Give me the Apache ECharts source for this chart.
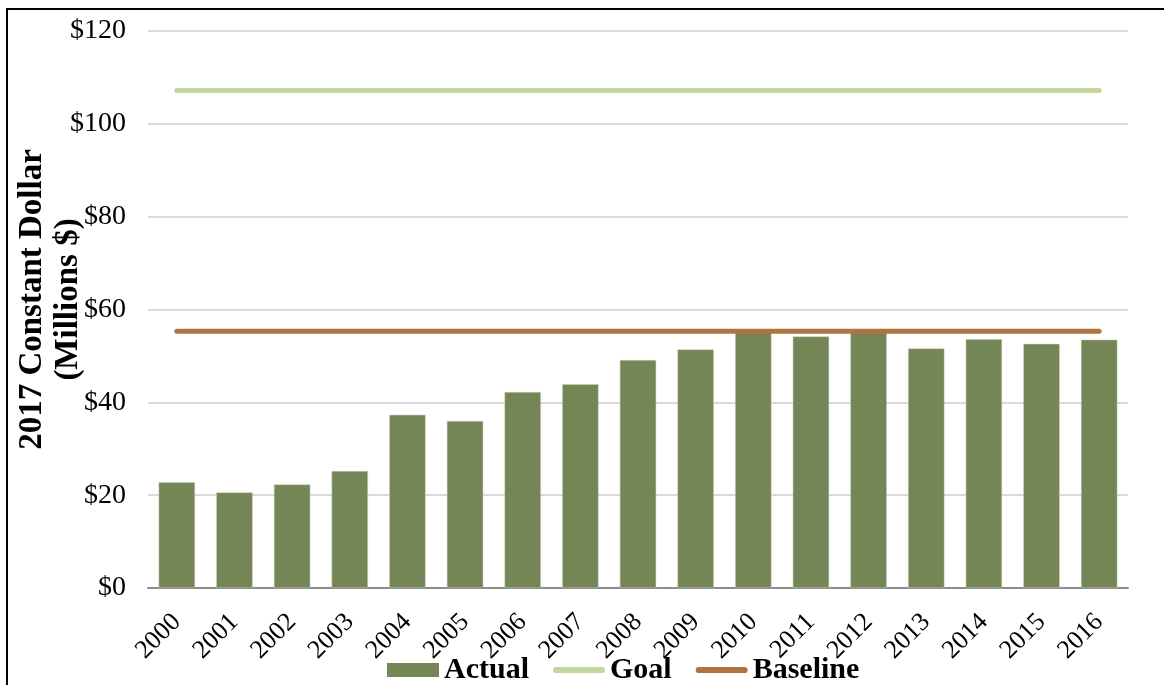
<!DOCTYPE html>
<html>
<head>
<meta charset="utf-8">
<script src="https://cdn.jsdelivr.net/npm/echarts@6/dist/echarts.min.js"></script>
<style>
html,body{margin:0;padding:0;background:#fff;}
#chart{width:1164px;height:685px;}
</style>
</head>
<body>
<div id="chart"></div>
<script>
const years = ['2000','2001','2002','2003','2004','2005','2006','2007','2008','2009','2010','2011','2012','2013','2014','2015','2016'];
const actual = [22.8, 20.6, 22.3, 25.2, 37.3, 36.0, 42.2, 43.9, 49.1, 51.4, 55.4, 54.2, 55.4, 51.6, 53.6, 52.6, 53.5];
const goalValue = 107.2;
const baselineValue = 55.3;
const goal = years.map(() => goalValue);
const baseline = years.map(() => baselineValue);

const serif = '"Liberation Serif", "Times New Roman", serif';
const lineIcon = 'path://M6,0 L94,0 A6,6 0 0 1 94,12 L6,12 A6,6 0 0 1 6,0 Z';
const chart = echarts.init(document.getElementById('chart'));
chart.setOption({
  animation: false,
  backgroundColor: '#fff',
  textStyle: { fontFamily: serif },
  graphic: [{
    type: 'rect',
    shape: { x: 7, y: 9, width: 1180, height: 700 },
    style: { fill: 'none', stroke: '#000', lineWidth: 2 },
    silent: true
  }],
  grid: { left: 148, right: 36, top: 31, bottom: 97, containLabel: false, outerBoundsMode: 'none' },
  legend: {
    top: 655,
    left: 387,
    padding: 0,
    itemGap: 24,
    itemWidth: 52,
    itemHeight: 14,
    textStyle: { fontFamily: serif, fontSize: 30, fontWeight: 'bold', color: '#000' },
    data: [
      { name: 'Actual', icon: 'rect', itemStyle: { color: '#748556', borderWidth: 0 } },
      { name: 'Goal', icon: lineIcon, itemStyle: { color: '#c3d69b' } },
      { name: 'Baseline', icon: lineIcon, itemStyle: { color: '#b07440' } }
    ]
  },
  xAxis: {
    type: 'category',
    data: years,
    axisLine: { lineStyle: { color: '#8c8c8c', width: 2 } },
    axisTick: { show: false },
    axisLabel: { rotate: 45, fontFamily: serif, fontSize: 26, color: '#000', margin: 30, interval: 0 }
  },
  yAxis: {
    type: 'value',
    min: 0, max: 120, interval: 20,
    name: '2017 Constant Dollar\n(Millions $)',
    nameLocation: 'middle',
    nameGap: 62,
    nameMoveOverlap: false,
    nameRotate: 90,
    nameTextStyle: { fontFamily: serif, fontSize: 33, fontWeight: 'bold', color: '#000', lineHeight: 36, padding: [0, 0, 0, 20] },
    axisLine: { show: false },
    axisTick: { show: false },
    axisLabel: { fontFamily: serif, fontSize: 28, color: '#000', margin: 22, formatter: v => '$' + v },
    splitLine: { lineStyle: { color: '#d9d9d9', width: 2 } }
  },
  series: [
    {
      name: 'Actual',
      type: 'bar',
      data: actual,
      barCategoryGap: '37%',
      itemStyle: { color: '#748556', borderColor: '#c9d1bc', borderWidth: 0.5 },
      z: 3
    },
    {
      name: 'Goal',
      type: 'line',
      data: goal,
      symbol: 'none',
      lineStyle: { color: '#c3d69b', width: 5, cap: 'round' },
      itemStyle: { color: '#c3d69b' },
      z: 2
    },
    {
      name: 'Baseline',
      type: 'line',
      data: baseline,
      symbol: 'none',
      lineStyle: { color: '#b07440', width: 5, cap: 'round' },
      itemStyle: { color: '#b07440' },
      z: 4
    }
  ]
});
</script>
</body>
</html>
